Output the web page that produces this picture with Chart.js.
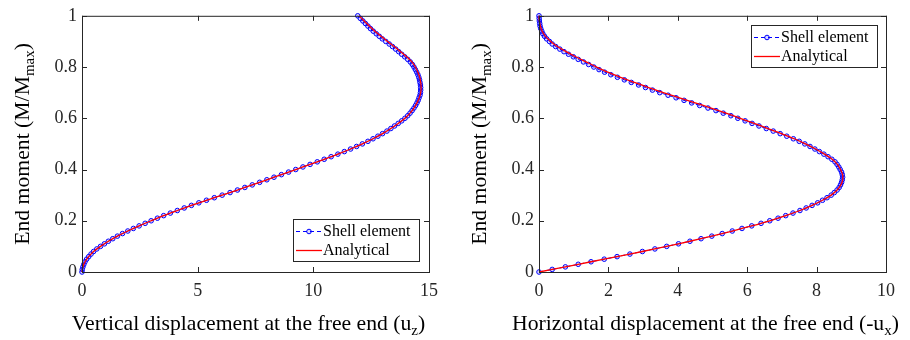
<!DOCTYPE html>
<html>
<head>
<meta charset="utf-8">
<script src="https://cdn.jsdelivr.net/npm/chart.js@4.4.0/dist/chart.umd.min.js"></script>
<style>
  html, body { margin: 0; padding: 0; background: #fff; }
  #wrap { position: relative; width: 910px; height: 340px; }
  canvas { position: absolute; top: 0; }
</style>
</head>
<body>
<div id="wrap">
  <canvas id="chartUz" width="455" height="340" style="left:0"></canvas>
  <canvas id="chartUx" width="455" height="340" style="left:455px"></canvas>
</div>
<script>
// end moment M/Mmax for the shell element points
const momentShell = [0, 0.01, 0.02, 0.03, 0.04, 0.05, 0.06, 0.07, 0.08, 0.09,
  0.10, 0.11, 0.12, 0.13, 0.14, 0.15, 0.16, 0.17, 0.18, 0.19,
  0.20, 0.21, 0.22, 0.23, 0.24, 0.25, 0.26, 0.27, 0.28, 0.29,
  0.30, 0.31, 0.32, 0.33, 0.34, 0.35, 0.36, 0.37, 0.38, 0.39,
  0.40, 0.41, 0.42, 0.43, 0.44, 0.45, 0.46, 0.47, 0.48, 0.49,
  0.50, 0.51, 0.52, 0.53, 0.54, 0.55, 0.56, 0.57, 0.58, 0.59,
  0.60, 0.61, 0.62, 0.63, 0.64, 0.65, 0.66, 0.67, 0.68, 0.69,
  0.70, 0.71, 0.72, 0.73, 0.74, 0.75, 0.76, 0.77, 0.78, 0.79,
  0.80, 0.81, 0.82, 0.83, 0.84, 0.85, 0.86, 0.87, 0.88, 0.89,
  0.90, 0.91, 0.92, 0.93, 0.94, 0.95, 0.96, 0.97, 0.98, 0.99, 1.00];

// vertical displacement uz, shell element
const uzShell = [0, 0.01, 0.04, 0.08, 0.13, 0.20, 0.29, 0.39, 0.50, 0.64,
  0.80, 0.97, 1.14, 1.33, 1.53, 1.75, 1.98, 2.22, 2.47, 2.73,
  2.99, 3.26, 3.53, 3.82, 4.12, 4.42, 4.73, 5.05, 5.38, 5.72,
  6.06, 6.40, 6.72, 7.04, 7.36, 7.68, 7.99, 8.30, 8.62, 8.93,
  9.24, 9.55, 9.86, 10.17, 10.47, 10.77, 11.06, 11.34, 11.61, 11.87,
  12.12, 12.36, 12.58, 12.79, 12.99, 13.18, 13.35, 13.51, 13.67, 13.82,
  13.96, 14.08, 14.18, 14.27, 14.35, 14.42, 14.48, 14.53, 14.57, 14.61,
  14.63, 14.64, 14.64, 14.63, 14.61, 14.59, 14.56, 14.52, 14.47, 14.41,
  14.35, 14.28, 14.19, 14.08, 13.95, 13.82, 13.69, 13.56, 13.42, 13.28,
  13.13, 12.98, 12.85, 12.72, 12.59, 12.47, 12.36, 12.25, 12.14, 12.03, 11.92];

// horizontal displacement -ux, shell element
const uxShell = [0, 0.38, 0.76, 1.13, 1.50, 1.88, 2.25, 2.62, 2.98, 3.34,
  3.68, 4.02, 4.35, 4.67, 4.98, 5.28, 5.57, 5.85, 6.13, 6.40,
  6.65, 6.89, 7.11, 7.32, 7.52, 7.70, 7.87, 8.03, 8.17, 8.30,
  8.42, 8.51, 8.59, 8.65, 8.69, 8.72, 8.74, 8.75, 8.74, 8.72,
  8.68, 8.64, 8.59, 8.53, 8.44, 8.33, 8.21, 8.08, 7.95, 7.81,
  7.66, 7.50, 7.33, 7.14, 6.95, 6.75, 6.55, 6.34, 6.14, 5.94,
  5.73, 5.53, 5.31, 5.10, 4.87, 4.63, 4.40, 4.18, 3.95, 3.72,
  3.48, 3.27, 3.07, 2.87, 2.66, 2.46, 2.26, 2.07, 1.89, 1.73,
  1.58, 1.43, 1.28, 1.13, 0.99, 0.85, 0.72, 0.60, 0.48, 0.38,
  0.30, 0.22, 0.16, 0.11, 0.08, 0.05, 0.03, 0.02, 0.01, 0.005, 0];

// analytical curves, read every 0.02 of M/Mmax
const momentAnalytical = [0, 0.02, 0.04, 0.06, 0.08, 0.10, 0.12, 0.14, 0.16, 0.18,
  0.20, 0.22, 0.24, 0.26, 0.28, 0.30, 0.32, 0.34, 0.36, 0.38,
  0.40, 0.42, 0.44, 0.46, 0.48, 0.50, 0.52, 0.54, 0.56, 0.58,
  0.60, 0.62, 0.64, 0.66, 0.68, 0.70, 0.72, 0.74, 0.76, 0.78,
  0.80, 0.82, 0.84, 0.86, 0.88, 0.90, 0.92, 0.94, 0.96, 0.98, 1.00];

const uzAnalytical = [0, 0.04, 0.13, 0.29, 0.50, 0.80, 1.14, 1.53, 1.98, 2.47,
  2.99, 3.53, 4.12, 4.73, 5.38, 6.06, 6.72, 7.36, 7.99, 8.62,
  9.24, 9.86, 10.47, 11.06, 11.61, 12.12, 12.58, 12.99, 13.35, 13.67,
  13.96, 14.18, 14.35, 14.48, 14.58, 14.64, 14.66, 14.64, 14.60, 14.52,
  14.41, 14.26, 14.03, 13.77, 13.50, 13.21, 12.93, 12.66, 12.42, 12.20, 11.98];

const uxAnalytical = [0, 0.76, 1.50, 2.25, 2.98, 3.68, 4.35, 4.98, 5.57, 6.13,
  6.65, 7.11, 7.52, 7.87, 8.17, 8.42, 8.59, 8.70, 8.75, 8.75,
  8.69, 8.60, 8.45, 8.23, 7.97, 7.68, 7.36, 6.99, 6.60, 6.20,
  5.80, 5.39, 4.96, 4.50, 4.05, 3.58, 3.16, 2.75, 2.35, 1.98,
  1.66, 1.36, 1.06, 0.78, 0.53, 0.34, 0.19, 0.09, 0.04, 0.01, 0];

const momentTicks = [0, 0.2, 0.4, 0.6, 0.8, 1];
const uzTicks = [0, 5, 10, 15];
const uxTicks = [0, 2, 4, 6, 8, 10];
const seriesNames = ['Shell element', 'Analytical'];

const FONT = "'Liberation Serif', 'Times New Roman', serif";
const INK = '#262626';

function pairs(xs, ys) {
  return xs.map((x, i) => ({ x: x, y: ys[i] }));
}

// text made of pieces, some of them subscripts
function drawPieces(ctx, pieces, x, y) {
  let total = 0;
  pieces.forEach(p => {
    ctx.font = (p.sub ? '15px ' : '21.7px ') + FONT;
    p.w = ctx.measureText(p.t).width;
    total += p.w;
  });
  let cx = x - total / 2;
  pieces.forEach(p => {
    ctx.font = (p.sub ? '15px ' : '21.7px ') + FONT;
    ctx.fillText(p.t, cx, y + (p.sub ? 5 : 0));
    cx += p.w;
  });
}

function framePlugin(cfg) {
  return {
    id: 'frame',
    afterDatasetsDraw(chart) {
      const ctx = chart.ctx, a = chart.chartArea;
      const sx = chart.scales.x, sy = chart.scales.y;
      ctx.save();
      ctx.strokeStyle = INK;
      ctx.lineWidth = 1;
      ctx.beginPath();
      sx.ticks.forEach(t => {
        const px = Math.round(sx.getPixelForValue(t.value)) + 0.5;
        ctx.moveTo(px, a.bottom); ctx.lineTo(px, a.bottom - 5);
        ctx.moveTo(px, a.top); ctx.lineTo(px, a.top + 5);
      });
      sy.ticks.forEach(t => {
        const py = Math.round(sy.getPixelForValue(t.value)) + 0.5;
        ctx.moveTo(a.left, py); ctx.lineTo(a.left + 5, py);
        ctx.moveTo(a.right, py); ctx.lineTo(a.right - 5, py);
      });
      ctx.stroke();
      ctx.strokeRect(a.left + 0.5, a.top + 0.5, a.right - a.left, a.bottom - a.top);
      ctx.restore();
    },
    afterDraw(chart) {
      const ctx = chart.ctx, a = chart.chartArea;
      ctx.save();
      ctx.fillStyle = '#000';
      ctx.textBaseline = 'alphabetic';
      ctx.textAlign = 'left';
      drawPieces(ctx, cfg.xTitle, (a.left + a.right) / 2 - 7, 330);

      ctx.save();
      ctx.translate(a.left - 53, (a.top + a.bottom) / 2);
      ctx.rotate(-Math.PI / 2);
      drawPieces(ctx, [{ t: 'End moment (M/M' }, { t: 'max', sub: true }, { t: ')' }], 0, 0);
      ctx.restore();

      // legend box
      const L = cfg.legend;
      ctx.fillStyle = '#fff';
      ctx.fillRect(L.x, L.y, 126, 42);
      ctx.strokeStyle = INK;
      ctx.lineWidth = 1;
      ctx.strokeRect(L.x + 0.5, L.y + 0.5, 126, 42);

      const r1 = L.y + 12.5, r2 = L.y + 31.5;
      ctx.strokeStyle = '#0000ff';
      ctx.setLineDash([4, 3]);
      ctx.beginPath();
      ctx.moveTo(L.x + 3, r1); ctx.lineTo(L.x + 29, r1);
      ctx.stroke();
      ctx.setLineDash([]);
      ctx.beginPath();
      ctx.arc(L.x + 16, r1, 2.3, 0, Math.PI * 2);
      ctx.fillStyle = 'rgba(0,0,255,0.15)';
      ctx.fill();
      ctx.stroke();

      ctx.strokeStyle = '#ff0000';
      ctx.lineWidth = 1.3;
      ctx.beginPath();
      ctx.moveTo(L.x + 3, r2); ctx.lineTo(L.x + 29, r2);
      ctx.stroke();

      ctx.fillStyle = '#000';
      ctx.font = '16px ' + FONT;
      ctx.textBaseline = 'middle';
      ctx.fillText(seriesNames[0], L.x + 30, r1);
      ctx.fillText(seriesNames[1], L.x + 30, r2);
      ctx.restore();
    }
  };
}

function makeChart(id, uShell, uAnal, xMax, xTicks, cfg) {
  new Chart(document.getElementById(id), {
    type: 'scatter',
    data: {
      datasets: [
        {
          label: seriesNames[0],
          data: pairs(uShell, momentShell),
          showLine: true,
          borderColor: '#0000ff',
          borderWidth: 1,
          borderDash: [4, 3],
          pointRadius: 2.3,
          pointBorderWidth: 1,
          pointBorderColor: '#0000ff',
          pointBackgroundColor: 'rgba(0,0,255,0.15)',
          clip: 6,
          order: 2
        },
        {
          label: seriesNames[1],
          data: pairs(uAnal, momentAnalytical),
          showLine: true,
          borderColor: '#ff0000',
          borderWidth: 1.3,
          pointRadius: 0,
          tension: 0.3,
          clip: 6,
          order: 1
        }
      ]
    },
    options: {
      responsive: false,
      animation: false,
      events: [],
      layout: { padding: { top: 14, right: cfg.padRight, left: 0, bottom: 0 } },
      plugins: { legend: { display: false }, tooltip: { enabled: false } },
      scales: {
        x: {
          type: 'linear',
          min: 0,
          max: xMax,
          afterBuildTicks: s => { s.ticks = xTicks.map(v => ({ value: v })); },
          afterFit: s => { s.height = 68; },
          grid: { display: false, drawTicks: false },
          border: { display: false },
          ticks: { color: INK, padding: 8, font: { family: FONT, size: 18 }, callback: v => String(v) }
        },
        y: {
          type: 'linear',
          min: 0,
          max: 1,
          afterBuildTicks: s => { s.ticks = momentTicks.map(v => ({ value: v })); },
          afterFit: s => { s.width = cfg.axisLeft; },
          grid: { display: false, drawTicks: false },
          border: { display: false },
          ticks: { color: INK, padding: 5, font: { family: FONT, size: 18 }, callback: v => String(v) }
        }
      }
    },
    plugins: [framePlugin(cfg)]
  });
}

makeChart('chartUz', uzShell, uzAnalytical, 15, uzTicks, {
  axisLeft: 82,
  padRight: 26,
  legend: { x: 293, y: 219 },
  xTitle: [{ t: 'Vertical displacement at the free end (u' }, { t: 'z', sub: true }, { t: ')' }]
});

makeChart('chartUx', uxShell, uxAnalytical, 10, uxTicks, {
  axisLeft: 84,
  padRight: 24,
  legend: { x: 296, y: 25 },
  xTitle: [{ t: 'Horizontal displacement at the free end (-u' }, { t: 'x', sub: true }, { t: ')' }]
});
</script>
</body>
</html>
